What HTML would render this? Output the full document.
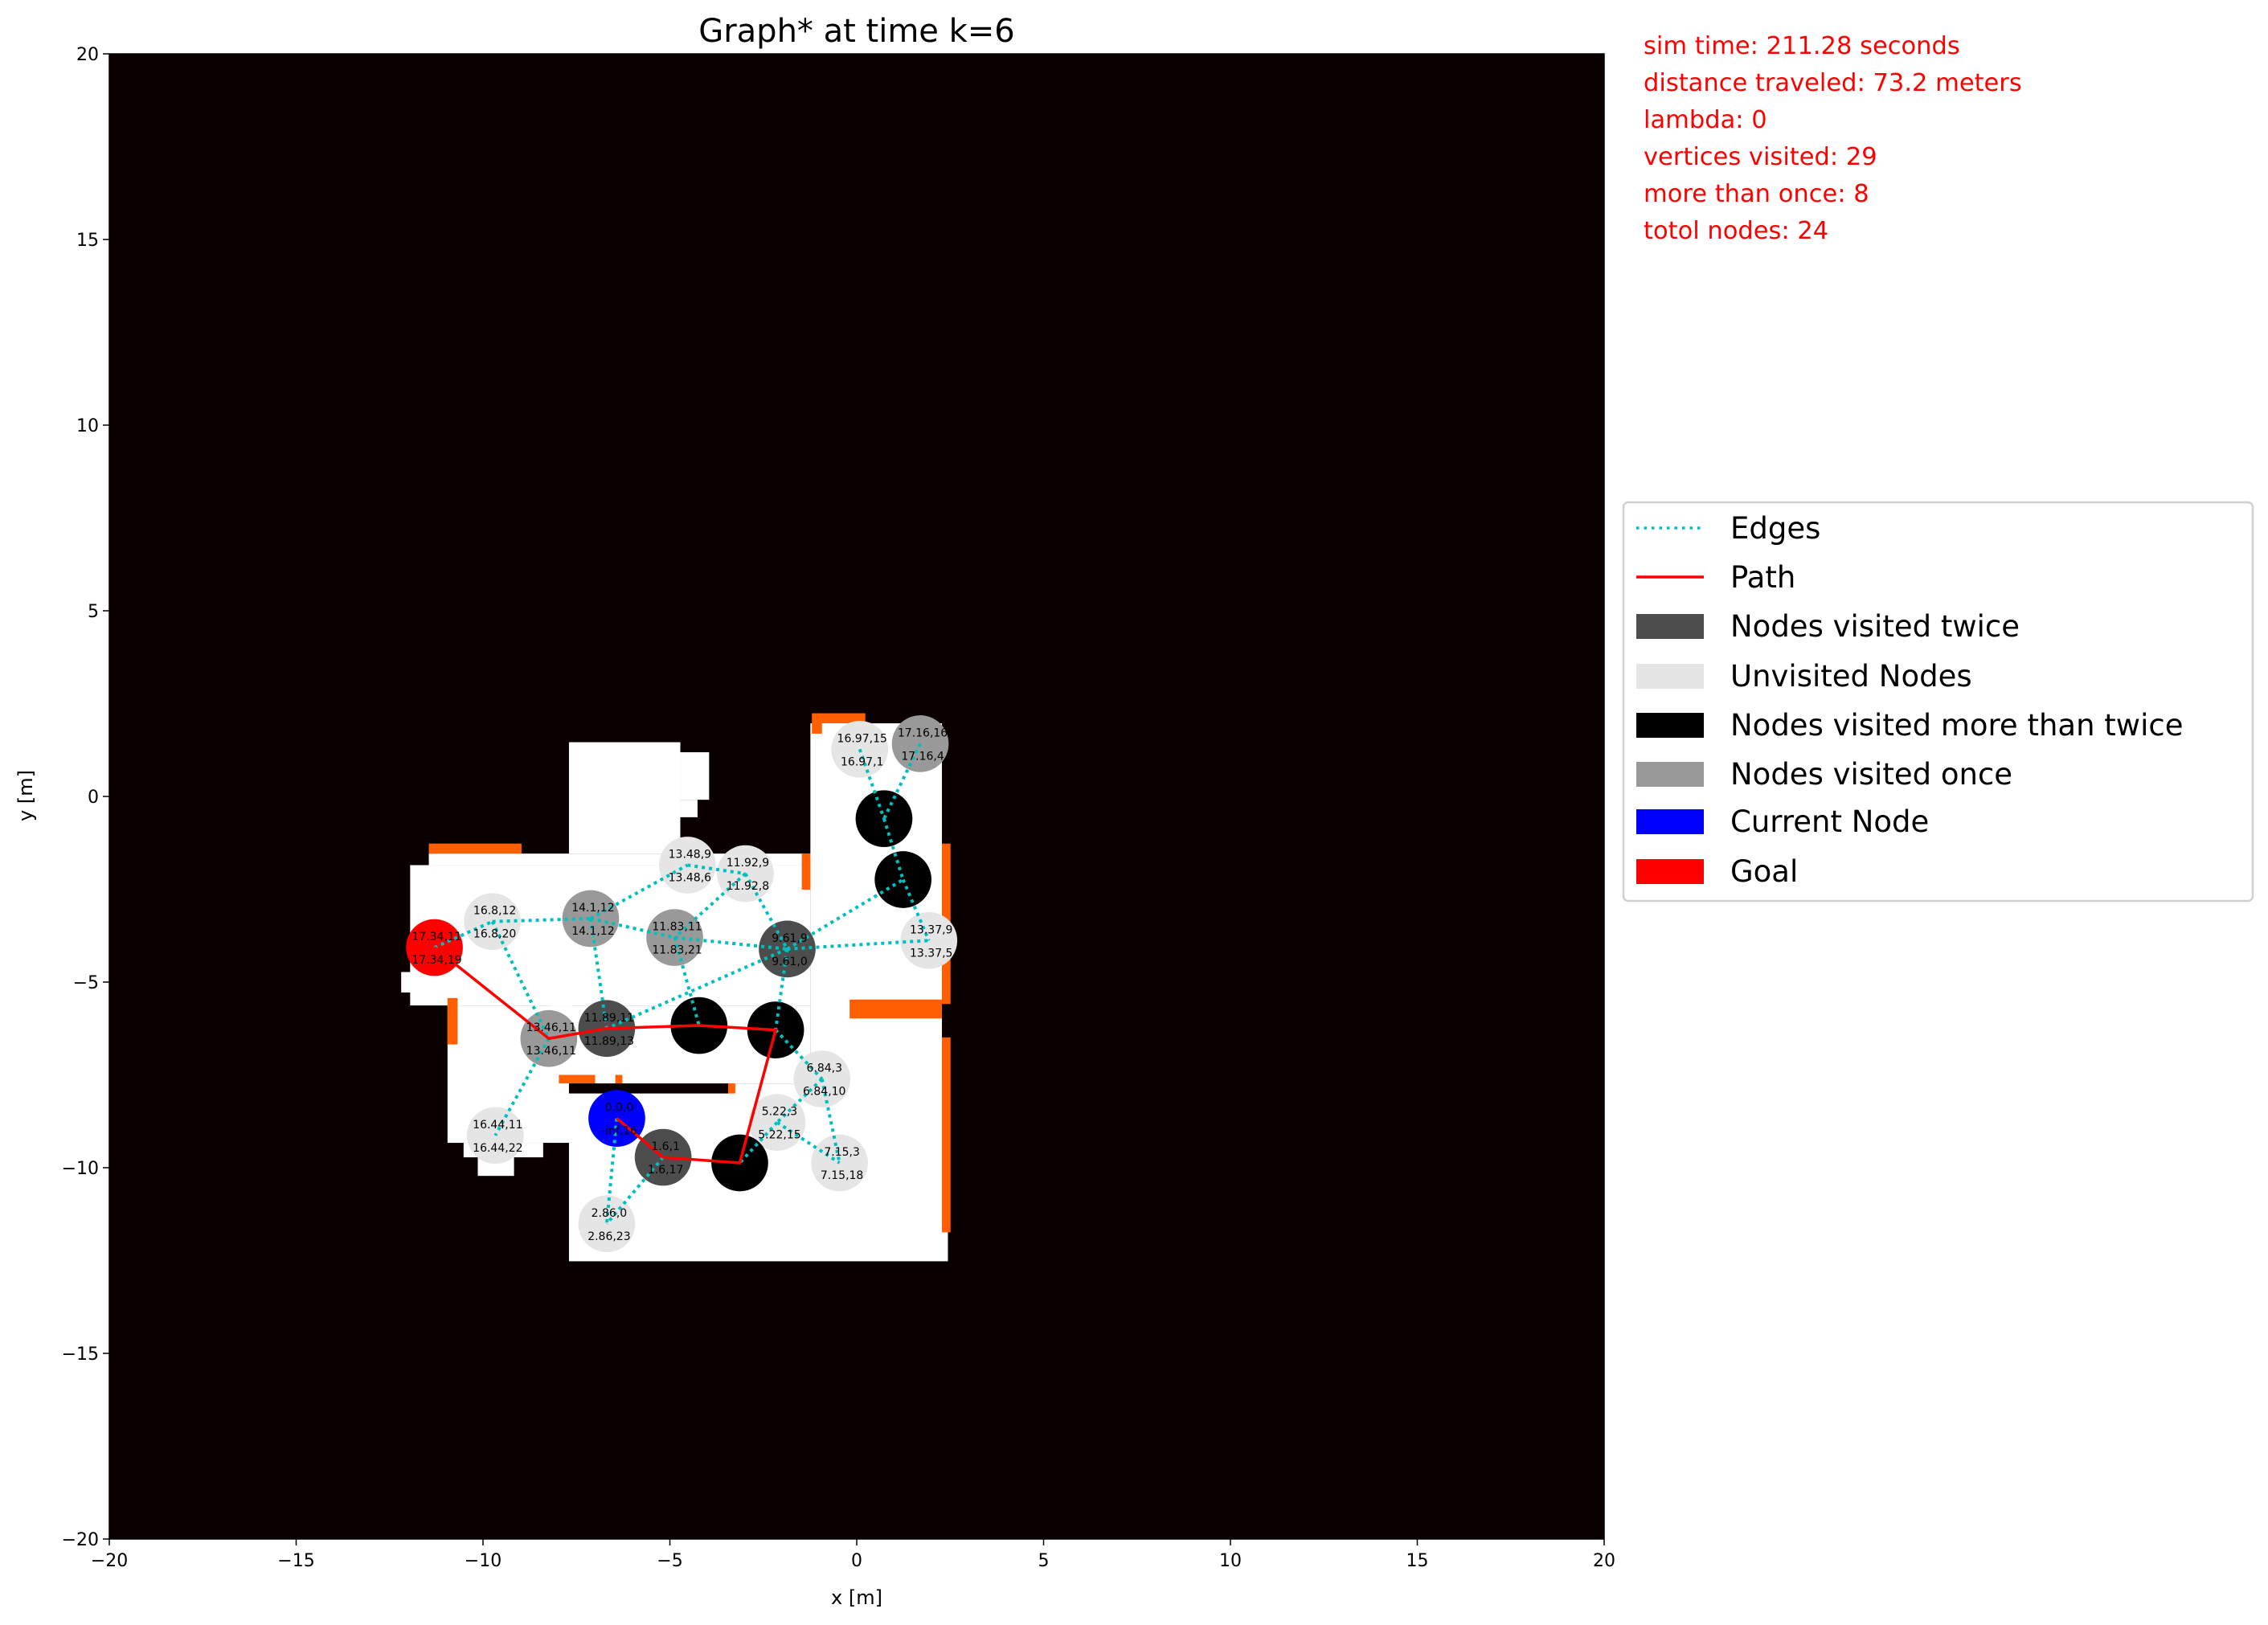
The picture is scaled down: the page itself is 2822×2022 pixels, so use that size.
<!DOCTYPE html>
<html><head><meta charset="utf-8"><style>
html,body{margin:0;padding:0;background:#fff;}
svg{display:block;font-family:"DejaVu Sans","Liberation Sans",sans-serif;}
</style></head><body>
<svg id="chart" width="2822" height="2022" viewBox="0 0 2822 2022" xmlns="http://www.w3.org/2000/svg">
<text x="1066" y="52" font-size="40" text-anchor="middle">Graph* at time k=6</text>
<g id="plot"></g>
<g id="axes"></g>
<text x="1066" y="1996" font-size="24" text-anchor="middle">x [m]</text>
<text x="40" y="990" font-size="24" text-anchor="middle" transform="rotate(-90 40 990)">y [m]</text>
<g font-size="30.5" fill="#ff0000">
<text x="2045" y="67">sim time: 211.28 seconds</text>
<text x="2045" y="113">distance traveled: 73.2 meters</text>
<text x="2045" y="159">lambda: 0</text>
<text x="2045" y="205">vertices visited: 29</text>
<text x="2045" y="251">more than once: 8</text>
<text x="2045" y="297">totol nodes: 24</text>
</g>
<g>
<rect x="2020" y="625" width="783" height="496" rx="6" fill="#fff" stroke="#d0d0d0" stroke-width="2.5"/>
<g font-size="37">
<line x1="2036" y1="657" x2="2120" y2="657" stroke="#00bfbf" stroke-width="3.5" stroke-dasharray="3.5,6"/>
<text x="2153" y="670">Edges</text>
<line x1="2036" y1="718" x2="2120" y2="718" stroke="#ff0000" stroke-width="3.5"/>
<text x="2153" y="731">Path</text>
<rect x="2036" y="764" width="84" height="31" fill="#4d4d4d"/>
<text x="2153" y="792">Nodes visited twice</text>
<rect x="2036" y="826" width="84" height="31" fill="#e5e5e5"/>
<text x="2153" y="854">Unvisited Nodes</text>
<rect x="2036" y="887" width="84" height="31" fill="#000"/>
<text x="2153" y="915">Nodes visited more than twice</text>
<rect x="2036" y="948" width="84" height="31" fill="#999999"/>
<text x="2153" y="976">Nodes visited once</text>
<rect x="2036" y="1007" width="84" height="31" fill="#0000ff"/>
<text x="2153" y="1035">Current Node</text>
<rect x="2036" y="1069" width="84" height="31" fill="#ff0000"/>
<text x="2153" y="1097">Goal</text>
</g></g>
</svg>
<script>
// map rectangles [x0,x1,y0,y1] in meters
const freeRects=[[-7.70,-4.72,-1.54,1.46],[-4.72,-3.95,-0.09,1.19],[-4.72,-4.26,-0.56,-0.09],[-11.45,-1.24,-1.85,-1.54],[-11.95,-1.24,-5.63,-1.85],[-12.19,-11.30,-5.28,-4.73],[-10.95,-7.62,-9.33,-5.63],[-10.52,-8.39,-9.72,-9.33],[-10.14,-9.17,-10.22,-9.72],[-8.20,-1.24,-7.73,-5.63],[-7.70,2.44,-12.52,-7.73],[-1.24,2.28,-7.77,1.97]];
const wallRects=[[-11.45,-8.97,-1.54,-1.27],[-1.20,0.23,1.97,2.24],[-1.20,-0.93,1.69,1.97],[-1.47,-1.24,-2.51,-1.54],[2.28,2.51,-5.59,-1.27],[2.28,2.51,-11.74,-6.49],[-0.19,2.28,-5.98,-5.47],[-10.95,-10.68,-6.68,-5.43],[-7.97,-7.00,-7.73,-7.50],[-6.46,-6.27,-7.73,-7.50],[-3.44,-3.25,-8.00,-7.73]];
const blockRects=[[-7.70,-3.44,-8.00,-7.73],[2.28,2.51,-5.98,-5.75]];
// nodes
const nodeX=[-11.30,-9.75,-7.12,-4.53,-2.98,-4.87,-1.86,0.08,1.70,0.73,1.24,1.93,-8.24,-6.69,-4.22,-2.17,-0.93,-2.13,-0.46,-6.42,-5.18,-3.13,-6.69,-9.67];
const nodeY=[-4.07,-3.37,-3.29,-1.85,-2.08,-3.80,-4.11,1.27,1.42,-0.60,-2.24,-3.88,-6.52,-6.25,-6.17,-6.29,-7.61,-8.78,-9.87,-8.67,-9.72,-9.87,-11.51,-9.13];
const nodeType=["goal","unvisited","once","unvisited","unvisited","once","twice","unvisited","once","more","more","unvisited","once","twice","more","more","unvisited","unvisited","unvisited","current","twice","more","unvisited","unvisited"];
const labelTop=["17.34,11","16.8,12","14.1,12","13.48,9","11.92,9","11.83,11","9.61,9","16.97,15","17.16,16","","","13.37,9","13.46,11","11.89,11","","","6.84,3","5.22,3","7.15,3","0.0,0","1.6,1","","2.86,0","16.44,11"];
const labelBot=["17.34,19","16.8,20","14.1,12","13.48,6","11.92,8","11.83,21","9.61,0","16.97,1","17.16,4","","","13.37,5","13.46,11","11.89,13","","","6.84,10","5.22,15","7.15,18","-inf,16","1.6,17","","2.86,23","16.44,22"];
const edgeFrom=[0,1,1,2,2,2,3,4,4,5,5,6,6,6,6,7,8,9,10,15,16,16,17,17,12,19,20];
const edgeTo=[1,2,12,3,5,13,4,5,6,6,14,10,11,13,15,9,9,10,11,16,17,18,18,21,23,22,22];
const pathNodes=[0,12,13,14,15,21,20,19];
const xTicks=[-20,-15,-10,-5,0,5,10,15,20];
const yTicks=[-20,-15,-10,-5,0,5,10,15,20];

const L=136,R=1996,T=67,B=1915;
const sx=v=>L+(v+20)/40*(R-L);
const sy=v=>T+(20-v)/40*(B-T);
const NS="http://www.w3.org/2000/svg";
const plot=document.getElementById('plot'),axes=document.getElementById('axes');
function mk(tag,attrs,parent){const e=document.createElementNS(NS,tag);for(const k in attrs)e.setAttribute(k,attrs[k]);parent.appendChild(e);return e;}
let bg=mk('rect',{x:L,y:T,width:R-L,height:B-T,fill:'#0b0000'},plot);


function drawRects(arr,color,name){arr.forEach(r=>{const e=mk('rect',{x:sx(r[0]),y:sy(r[3]),width:sx(r[1])-sx(r[0]),height:sy(r[2])-sy(r[3]),fill:color},plot);

});}
drawRects(freeRects,'#ffffff','free-space');
drawRects(wallRects,'#ff5f00','wall');
drawRects(blockRects,'#0b0000','obstacle');
const colors={goal:'#ff0000',unvisited:'#e5e5e5',once:'#999999',twice:'#4d4d4d',more:'#000000',current:'#0000ff'};
const rad=0.76;
nodeX.forEach((x,i)=>{const c=mk('circle',{cx:sx(x),cy:sy(nodeY[i]),r:sx(rad)-sx(0),fill:colors[nodeType[i]]},plot);

});
edgeFrom.forEach((a,i)=>{const b=edgeTo[i];const e=mk('line',{x1:sx(nodeX[a]),y1:sy(nodeY[a]),x2:sx(nodeX[b]),y2:sy(nodeY[b]),stroke:'#00bfbf','stroke-width':4,'stroke-dasharray':'4,5'},plot);

});
const p=mk('polyline',{points:pathNodes.map(i=>sx(nodeX[i])+','+sy(nodeY[i])).join(' '),fill:'none',stroke:'#ff0000','stroke-width':3.5},plot);


nodeX.forEach((x,i)=>{if(!labelTop[i])return;
const t1=mk('text',{x:sx(x)+3,y:sy(nodeY[i])-9,'font-size':14,'text-anchor':'middle',fill:'#000'},plot);t1.textContent=labelTop[i];


const t2=mk('text',{x:sx(x)+3,y:sy(nodeY[i])+20,'font-size':14,'text-anchor':'middle',fill:'#000'},plot);t2.textContent=labelBot[i];

});
const fr=mk('rect',{x:L,y:T,width:R-L,height:B-T,fill:'none',stroke:'#000','stroke-width':1.5},axes);


xTicks.forEach(v=>{mk('line',{x1:sx(v),y1:B,x2:sx(v),y2:B+8,stroke:'#000','stroke-width':1.5},axes);
const t=mk('text',{x:sx(v),y:B+34,'font-size':22,'text-anchor':'middle'},axes);t.textContent=(v<0?'\u2212':'')+Math.abs(v);

});
yTicks.forEach(v=>{mk('line',{x1:L-8,y1:sy(v),x2:L,y2:sy(v),stroke:'#000','stroke-width':1.5},axes);
const t=mk('text',{x:L-13,y:sy(v)+8,'font-size':22,'text-anchor':'end'},axes);t.textContent=(v<0?'\u2212':'')+Math.abs(v);

});
</script>
</body></html>
